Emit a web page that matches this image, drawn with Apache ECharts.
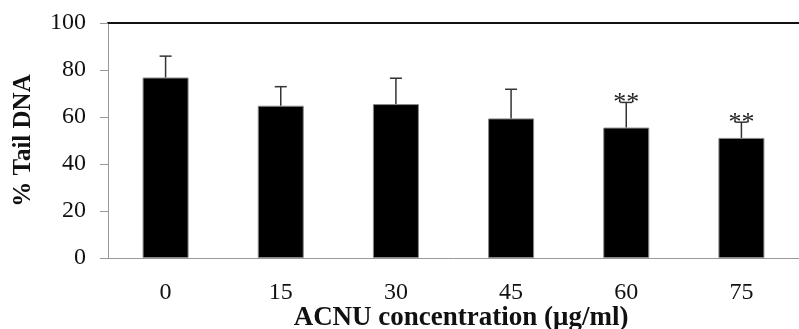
<!DOCTYPE html>
<html>
<head>
<meta charset="utf-8">
<script src="https://cdn.jsdelivr.net/npm/echarts@6/dist/echarts.min.js"></script>
<style>
  html, body { margin: 0; padding: 0; background: #fff; }
  #chart { width: 799px; height: 329px; }
</style>
</head>
<body>
<div id="chart"></div>
<script>
// data
var categories = ['0', '15', '30', '45', '60', '75'];
var tailDNA = [76.8, 64.8, 65.5, 59.4, 55.5, 51.1];
var errUpper = [85.9, 72.9, 76.5, 71.8, 66.2, 57.8];
var signif = ['', '', '', '', '**', '**'];
var yTicks = [0, 20, 40, 60, 80, 100];

var chart = echarts.init(document.getElementById('chart'));

var errData = categories.map(function (c, i) {
  return [i, tailDNA[i], errUpper[i]];
});

var option = {
  animation: false,
  grid: { left: 108, top: 23, bottom: 71, right: -8 },
  xAxis: [{
    type: 'category',
    data: categories,
    boundaryGap: true,
    axisLine: { lineStyle: { color: '#999', width: 1 } },
    axisTick: { show: false },
    axisLabel: { margin: 23, fontFamily: 'Liberation Serif', fontSize: 24, color: '#111' }
  }, {
    type: 'category',
    data: categories,
    position: 'top',
    axisLine: { lineStyle: { color: '#111', width: 2 } },
    axisTick: { show: false },
    axisLabel: { show: false }
  }],
  yAxis: {
    type: 'value',
    min: yTicks[0],
    max: yTicks[yTicks.length - 1],
    interval: 20,
    name: '% Tail DNA',
    nameLocation: 'middle',
    nameGap: 72,
    nameTextStyle: { fontFamily: 'Liberation Serif', fontSize: 25, fontWeight: 'bold', color: '#111' },
    axisLine: { show: true, lineStyle: { color: '#999', width: 1 } },
    axisTick: { show: true, length: 8, lineStyle: { color: '#999' } },
    axisLabel: { margin: 22, fontFamily: 'Liberation Serif', fontSize: 24, color: '#111' },
    splitLine: { show: false }
  },
  series: [{
    type: 'bar',
    data: tailDNA,
    barWidth: 46,
    itemStyle: { color: '#000', borderColor: '#888', borderWidth: 1 }
  }, {
    type: 'custom',
    data: errData,
    z: 3,
    renderItem: function (params, api) {
      var top = api.coord([api.value(0), api.value(2)]);
      var base = api.coord([api.value(0), api.value(1)]);
      var cap = 6;
      var children = [
        { type: 'line', shape: { x1: top[0], y1: base[1], x2: top[0], y2: top[1] }, style: { stroke: '#333', lineWidth: 1.5 } },
        { type: 'line', shape: { x1: top[0] - cap, y1: top[1], x2: top[0] + cap, y2: top[1] }, style: { stroke: '#333', lineWidth: 1.5 } }
      ];
      var mark = signif[params.dataIndex];
      if (mark) {
        children.push({
          type: 'text',
          style: {
            x: top[0], y: top[1] + 1, text: mark,
            fontFamily: 'Liberation Serif', fontSize: 26, fill: '#222',
            align: 'center', verticalAlign: 'middle'
          }
        });
      }
      return { type: 'group', children: children };
    }
  }],
  graphic: [{
    type: 'text',
    x: 461,
    y: 305,
    style: {
      text: 'ACNU concentration (μg/ml)',
      fontFamily: 'Liberation Serif', fontSize: 27, fontWeight: 'bold', fill: '#111',
      align: 'center', verticalAlign: 'top'
    }
  }]
};

chart.setOption(option);
</script>
</body>
</html>
